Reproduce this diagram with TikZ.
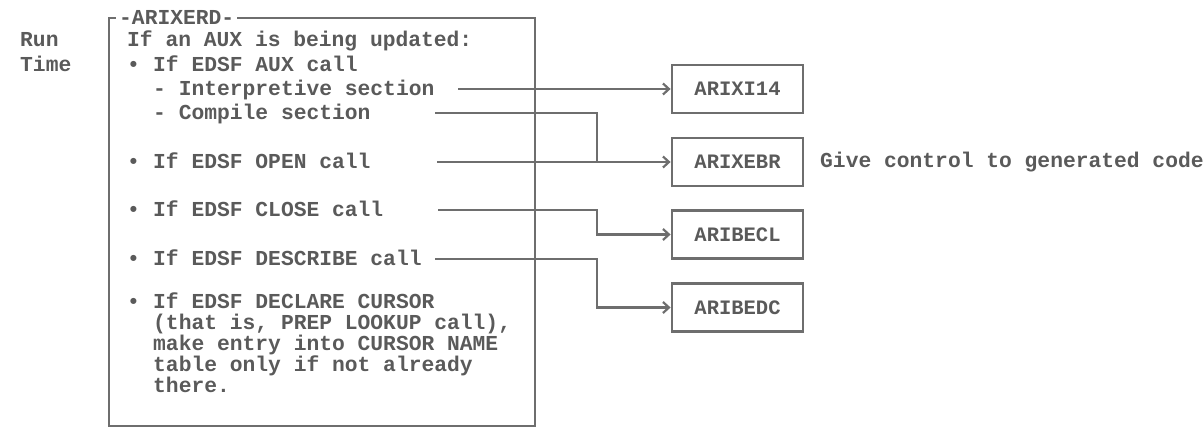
\documentclass[tikz,border=0pt]{standalone}
\usepackage{fontspec}
\setmonofont{Liberation Mono}
\usetikzlibrary{arrows.meta}
\definecolor{ink}{HTML}{5A5A5A}
\definecolor{rulec}{HTML}{6E6E6E}
\begin{document}
\begin{tikzpicture}[x=1pt,y=-1pt,
  txt/.style={inner sep=0pt, anchor=base west, text=ink,
    font=\ttfamily\bfseries\fontsize{21.3}{24}\selectfont},
  prog/.style={draw=rulec, line width=2.8pt, minimum width=131pt,
    minimum height=48pt, inner sep=0pt, text=ink,
    font=\ttfamily\bfseries\fontsize{20.5}{24}\selectfont},
  frame/.style={draw=rulec, line width=2.4pt, inner sep=0pt},
  conn/.style={draw=rulec, line width=2.2pt},
  arr/.style={conn, -{Straight Barb[length=6pt,width=11pt,line width=2.2pt]}},
]
\useasboundingbox (0,0) rectangle (1204,428);

% frame of module ARIXERD
\node[frame, anchor=north west, minimum width=426pt, minimum height=408pt] (fr) at (108,17) {};
\node[txt, anchor=west, fill=white, inner xsep=3pt, inner ysep=1pt] (title) at (116,17) {-ARIXERD-};

% side label
\node[txt] (run) at (20,47) {Run};
\node[txt] (time) at (20,71) {Time};

% text inside the frame
\node[txt] (l1) at (127,47) {If an AUX is being updated:};
\node[txt] (b1) at (127,71) {•};
\node[txt] (l2) at (153,71) {If EDSF AUX call};
\node[txt] (l3) at (153,95) {- Interpretive section};
\node[txt] (l4) at (153,119) {- Compile section};
\node[txt] (b2) at (127,168) {•};
\node[txt] (l5) at (153,168) {If EDSF OPEN call};
\node[txt] (b3) at (127,216) {•};
\node[txt] (l6) at (153,216) {If EDSF CLOSE call};
\node[txt] (b4) at (127,265) {•};
\node[txt] (l7) at (153,265) {If EDSF DESCRIBE call};
\node[txt] (b5) at (127,308) {•};
\node[txt] (l8) at (153,308) {If EDSF DECLARE CURSOR};
\node[txt] (l9) at (153,329) {(that is, PREP LOOKUP call),};
\node[txt] (l10) at (153,350) {make entry into CURSOR NAME};
\node[txt] (l11) at (153,371) {table only if not already};
\node[txt] (l12) at (153,392) {there.};

% called programs
\node[prog] (x14) at (737.5,89) {ARIXI14};
\node[prog] (ebr) at (737.5,162) {ARIXEBR};
\node[prog] (ecl) at (737.5,234.5) {ARIBECL};
\node[prog] (edc) at (737.5,307.5) {ARIBEDC};
\node[txt, anchor=west] (give) at (820,162) {Give control to generated code};

% connectors
\coordinate (s1) at (458,89);
\coordinate (s2) at (435,113);
\coordinate (s3) at (437,162);
\coordinate (s4) at (438,210);
\coordinate (s5) at (435,259);
\coordinate (j1) at (597,162);

\draw[arr] (s1) -- (x14.west);
\draw[conn] (s2) -| (j1);
\draw[arr] (s3) -- (ebr.west);
\draw[arr] (s4) -- (s4 -| j1) |- (ecl.west);
\draw[arr] (s5) -- (s5 -| j1) |- (edc.west);
\end{tikzpicture}
\end{document}
